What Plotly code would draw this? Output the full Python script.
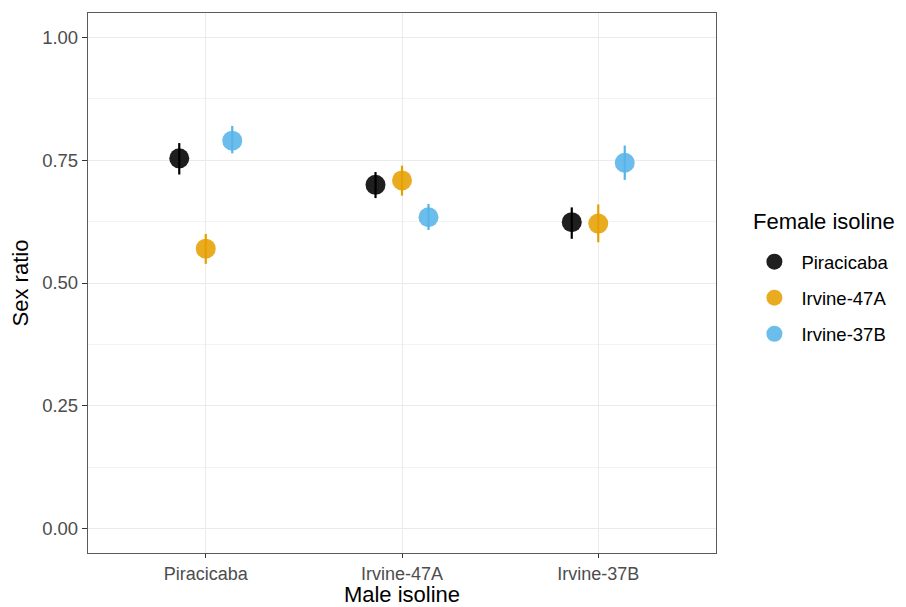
import plotly.graph_objects as go

male = ["Piracicaba", "Irvine-47A", "Irvine-37B"]
female = ["Piracicaba", "Irvine-47A", "Irvine-37B"]
colors = ["#000000", "#E69F00", "#56B4E9"]

# sex ratio means and error limits, per female isoline across male isolines
mean = {
    "Piracicaba": [0.754, 0.700, 0.624],
    "Irvine-47A": [0.570, 0.709, 0.621],
    "Irvine-37B": [0.790, 0.634, 0.745],
}
upper = {
    "Piracicaba": [0.785, 0.726, 0.654],
    "Irvine-47A": [0.600, 0.739, 0.660],
    "Irvine-37B": [0.820, 0.661, 0.780],
}
lower = {
    "Piracicaba": [0.721, 0.673, 0.590],
    "Irvine-47A": [0.539, 0.678, 0.583],
    "Irvine-37B": [0.764, 0.608, 0.710],
}
yticks = [0, 0.25, 0.5, 0.75, 1.0]
yticklabels = ["0.00", "0.25", "0.50", "0.75", "1.00"]
yminor = [0.125, 0.375, 0.625, 0.875]

FONT = "Liberation Sans, Arial, Helvetica, sans-serif"

fig = go.Figure()
for f, c in zip(female, colors):
    m = mean[f]
    up = [u - v for u, v in zip(upper[f], m)]
    lo = [v - l for l, v in zip(lower[f], m)]
    fig.add_trace(go.Scatter(
        x=male, y=m, name=f, mode="markers", legendgroup=f,
        marker=dict(color=c, size=20, opacity=0.88, line=dict(width=0)),
        error_y=dict(type="data", symmetric=False, array=up, arrayminus=lo,
                     color=c, thickness=2.2, width=0),
    ))

fig.add_annotation(
    text="Female isoline", xref="paper", yref="paper",
    x=1.056, y=0.614, xanchor="left", yanchor="middle", showarrow=False,
    font=dict(size=22, color="#000000", family=FONT),
)

# page body adds an 8px offset, so the figure is 8px smaller on each axis
fig.update_layout(
    width=898, height=599,
    margin=dict(l=80, r=190, t=5, b=54),
    paper_bgcolor="white", plot_bgcolor="white",
    scattermode="group", scattergap=0.595,
    font=dict(family=FONT, color="#000000"),
    showlegend=True,
    legend=dict(
        font=dict(size=18.5, color="#000000"),
        x=1.05, xanchor="left", y=0.472, yanchor="middle",
        tracegroupgap=9, itemsizing="trace", itemwidth=44,
        bgcolor="rgba(0,0,0,0)",
    ),
    xaxis=dict(
        type="category", range=[-0.6, 2.6], automargin=False,
        showline=True, linecolor="#5A5A5A", linewidth=1.3, mirror=True,
        showgrid=True, gridcolor="#EBEBEB", gridwidth=1.2,
        ticks="outside", ticklen=4, tickcolor="#333333", tickwidth=1.2,
        tickfont=dict(size=18, color="#4D4D4D"),
        title=dict(text="Male isoline", font=dict(size=22), standoff=4),
        zeroline=False,
    ),
    yaxis=dict(
        range=[-0.05, 1.05], automargin=False,
        tickvals=yticks, ticktext=yticklabels,
        showline=True, linecolor="#5A5A5A", linewidth=1.3, mirror=True,
        showgrid=True, gridcolor="#EBEBEB", gridwidth=1.2,
        minor=dict(tickvals=yminor, showgrid=True,
                   gridcolor="#F3F3F3", gridwidth=0.8, ticks=""),
        ticks="outside", ticklen=5, tickcolor="#333333", tickwidth=1.2,
        tickfont=dict(size=18.5, color="#4D4D4D"),
        title=dict(text="Sex ratio", font=dict(size=22), standoff=10),
        zeroline=False,
    ),
)

fig.write_html("out.html")
